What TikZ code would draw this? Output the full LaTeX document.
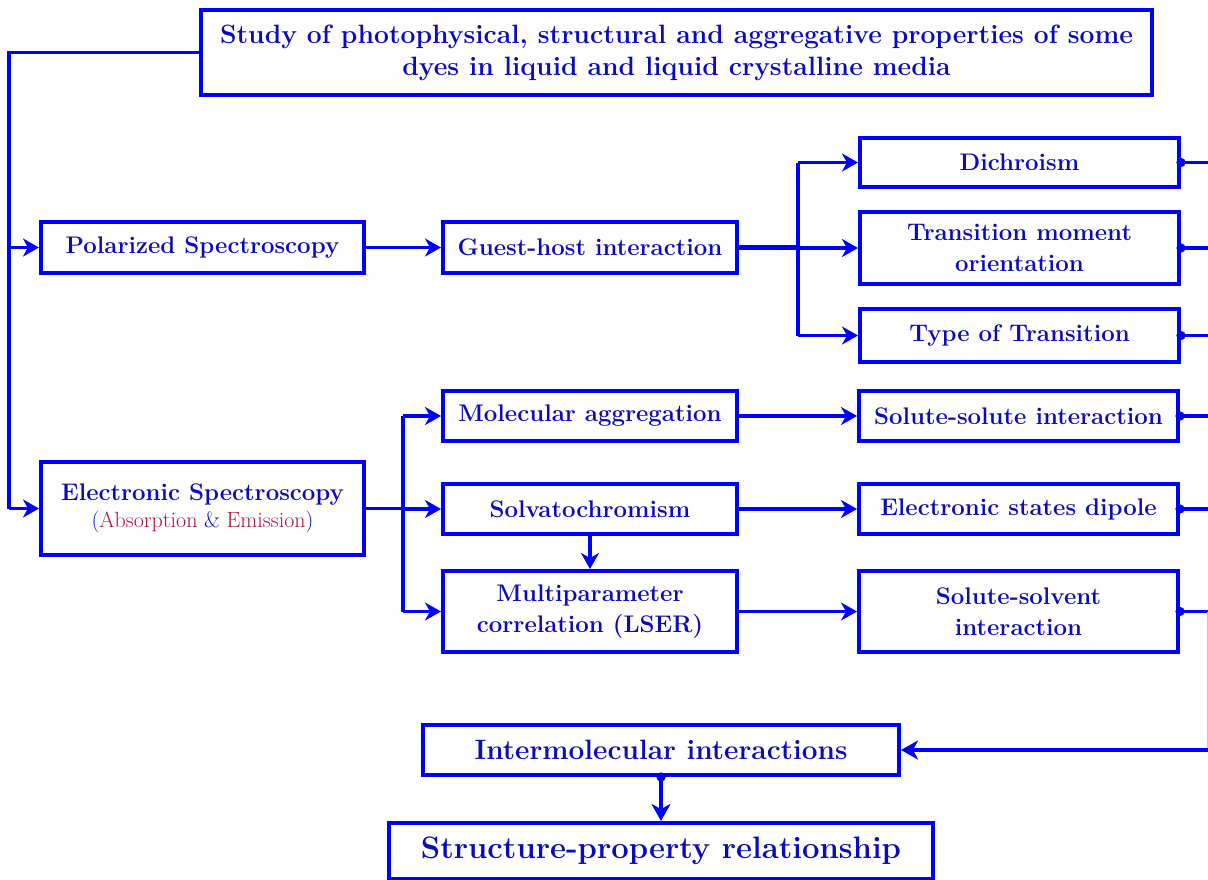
\documentclass[tikz,border=0pt]{standalone}
\usetikzlibrary{arrows.meta}
\definecolor{lineblue}{RGB}{0,0,255}
\definecolor{textblue}{RGB}{10,10,190}
\definecolor{redish}{RGB}{170,20,60}
\begin{document}
\begin{tikzpicture}[x=1pt,y=-1pt,
  box/.style={draw=lineblue, line width=4pt, fill=white, text=textblue, align=center, inner sep=0pt,
     font=\fontsize{24}{31}\selectfont\bfseries},
  conn/.style={draw=lineblue, line width=3.5pt},
  arr/.style={conn, -{Stealth[length=16pt,width=18pt,inset=5pt]}},
  dotstart/.style={conn, {Circle[length=9pt]}-, shorten <=-4.5pt},
]
\useasboundingbox (0,0) rectangle (1208,879);
% nodes
\node[box, minimum width=951, minimum height=85, font=\fontsize{26.5}{32}\selectfont\bfseries] (title) at (676.5,52.5)
  {Study of photophysical, structural and aggregative properties of some\\dyes in liquid and liquid crystalline media};
\node[box, minimum width=323, minimum height=51] (pol) at (202.5,247.5) {Polarized Spectroscopy};
\node[box, minimum width=294, minimum height=51] (gh) at (590,247.5) {Guest-host interaction};
\node[box, minimum width=319, minimum height=49] (dich) at (1019.5,162.5) {Dichroism};
\node[box, minimum width=319, minimum height=72] (tmo) at (1019.5,248) {Transition moment\\orientation};
\node[box, minimum width=319, minimum height=53] (tot) at (1019.5,335.5) {Type of Transition};
\node[box, minimum width=294, minimum height=50] (mol) at (590,416) {Molecular aggregation};
\node[box, minimum width=319, minimum height=50] (ss) at (1018.5,416) {Solute-solute interaction};
\node[box, minimum width=323, minimum height=93, font=\fontsize{24}{27}\selectfont\bfseries] (el) at (202.5,508.5)
  {Electronic Spectroscopy\\{\fontsize{22}{22}\selectfont\mdseries(\textcolor{redish}{Absorption} \& \textcolor{redish}{Emission})}};
\node[box, minimum width=294, minimum height=50] (solv) at (590,509) {Solvatochromism};
\node[box, minimum width=319, minimum height=50] (esd) at (1018.5,509) {Electronic states dipole};
\node[box, minimum width=294, minimum height=81] (mpc) at (590,611.5) {Multiparameter\\correlation (LSER)};
\node[box, minimum width=319, minimum height=81] (ssv) at (1018.5,611.5) {Solute-solvent\\interaction};
\node[box, minimum width=476, minimum height=50, font=\fontsize{28}{32}\selectfont\bfseries] (inter) at (661,750) {Intermolecular interactions};
\node[box, minimum width=544, minimum height=56, font=\fontsize{31}{34}\selectfont\bfseries] (spr) at (661,851) {Structure-property relationship};
% coordinates
\coordinate (LX) at (9,0);
\coordinate (BX) at (798,0);
\coordinate (CX) at (403,0);
\coordinate (RX) at (1208,0);
\coordinate (L1) at (title.west -| LX);
\coordinate (L2) at (el.west -| LX);
\coordinate (B0) at (gh.east -| BX);
\coordinate (B1) at (dich.west -| BX);
\coordinate (B2) at (tot.west -| BX);
\coordinate (C0) at (el.east -| CX);
\coordinate (C1) at (mol.west -| CX);
\coordinate (C2) at (mpc.west -| CX);
\coordinate (R6) at (ssv.east -| RX);
\coordinate (R7) at (inter.east -| RX);
% left bus
\draw[conn] (title.west) -- (L1) -- (L2);
\draw[arr] (pol.west -| LX) -- (pol.west);
\draw[arr] (L2) -- (el.west);
\draw[arr] (pol.east) -- (gh.west);
% guest-host branch
\draw[conn, line width=5pt] (gh.east) -- (B0);
\draw[conn] (B1) -- (B2);
\draw[arr] (B1) -- (dich.west);
\draw[arr] (tmo.west -| BX) -- (tmo.west);
\draw[arr] (B2) -- (tot.west);
% electronic branch
\draw[conn] (el.east) -- (C0);
\draw[conn] (C1) -- (C2);
\draw[arr] (C1) -- (mol.west);
\draw[arr] (solv.west -| CX) -- (solv.west);
\draw[arr] (C2) -- (mpc.west);
\draw[arr] (mol.east) -- (ss.west);
\draw[arr] (solv.east) -- (esd.west);
\draw[arr] (mpc.east) -- (ssv.west);
\draw[arr] (solv.south) -- (mpc.north);
% right outputs
\draw[dotstart] (dich.east) -- (dich.east -| RX);
\draw[dotstart] (tmo.east) -- (tmo.east -| RX);
\draw[dotstart] (tot.east) -- (tot.east -| RX);
\draw[dotstart] (ss.east) -- (ss.east -| RX);
\draw[dotstart] (esd.east) -- (esd.east -| RX);
\draw[dotstart] (ssv.east) -- (R6);
\draw[draw=lineblue!25, line width=1pt] ([xshift=-0.5pt]R6) -- ([xshift=-0.5pt]R7);
\draw[conn, line width=4.5pt, -{Stealth[length=17pt,width=19pt,inset=5pt]}] (R7) -- (inter.east);
\draw[conn, shorten <=-4.5pt, {Circle[length=9pt]}-{Stealth[length=17pt,width=19pt,inset=5pt]}] (inter.south) -- (spr.north);
\end{tikzpicture}
\end{document}
